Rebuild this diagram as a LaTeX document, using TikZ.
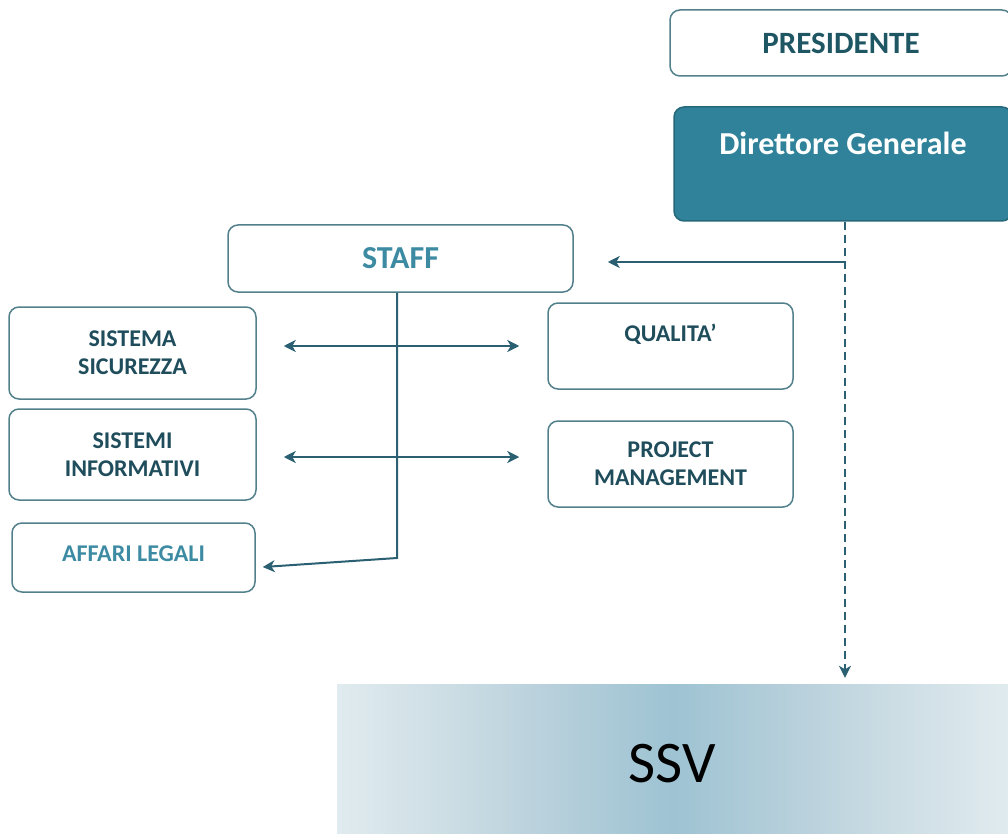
\documentclass[tikz,border=0pt]{standalone}
\usepackage{fontspec}
\setmainfont{Carlito}
\usetikzlibrary{arrows.meta,calc}
\definecolor{bordc}{HTML}{52808B}
\definecolor{arrc}{HTML}{2B6072}
\definecolor{darktxt}{HTML}{1F4D5C}
\definecolor{presc}{HTML}{1E5663}
\definecolor{dgfill}{HTML}{2F8299}
\definecolor{lighttxt}{HTML}{3C8BA3}
\definecolor{ssvmid}{HTML}{9EC3D3}
\definecolor{ssvq}{HTML}{B4CEDA}
\definecolor{ssve}{HTML}{CCDDE4}
\definecolor{ssvout}{HTML}{E0EBEF}
\pgfdeclarehorizontalshading{ssvshade}{100bp}{color(0bp)=(ssvout); color(25bp)=(ssvout); color(33.5bp)=(ssve); color(42bp)=(ssvq); color(50bp)=(ssvmid); color(58bp)=(ssvq); color(66.5bp)=(ssve); color(75bp)=(ssvout); color(100bp)=(ssvout)}
\tikzset{
  box/.style={draw=bordc, line width=1.5pt, rounded corners=10pt, fill=white, align=center, inner sep=0pt, text=darktxt, font=\bfseries\fontsize{24}{28}\selectfont},
  conn/.style={draw=arrc, line width=2pt, -{Stealth[length=12pt,width=12pt,inset=3.5pt]}},
  dconn/.style={draw=arrc, line width=2pt, {Stealth[length=12pt,width=12pt,inset=3.5pt]}-{Stealth[length=12pt,width=12pt,inset=3.5pt]}},
  dashconn/.style={draw=arrc, line width=2pt, dash pattern=on 8pt off 5pt, -{Stealth[length=12pt,width=12pt,inset=3.5pt]}}
}
\begin{document}
\begin{tikzpicture}[x=1pt,y=-1pt]
\useasboundingbox (0,0) rectangle (1008,834);
\clip (0,0) rectangle (1008,834);
% SSV
\node[minimum width=671pt, minimum height=160pt, inner sep=0pt, shade, shading=ssvshade, font=\fontsize{59}{70}\selectfont, text=black] (ssv) at (672.5,764) {SSV};
% top
\node[box, minimum width=342pt, minimum height=66pt, text=presc, font=\bfseries\fontsize{31}{36}\selectfont] (pres) at (841,43) {PRESIDENTE};
\node[box, draw=dgfill!80!black, fill=dgfill, minimum width=338pt, text height=48pt, text depth=66pt, text=white, font=\bfseries\fontsize{32}{38}\selectfont] (dg) at (843,164) {Direttore Generale};
% staff
\node[box, minimum width=345pt, minimum height=67pt, text=lighttxt, font=\bfseries\fontsize{32}{38}\selectfont] (staff) at (400.5,258.5) {STAFF};
% left
\node[box, minimum width=247pt, minimum height=92pt] (ss) at (132.5,353) {SISTEMA\\SICUREZZA};
\node[box, minimum width=247pt, minimum height=91pt] (si) at (132.5,454.5) {SISTEMI\\INFORMATIVI};
\node[box, minimum width=243pt, text height=38pt, text depth=31pt, text=lighttxt] (al) at (133.5,557.5) {AFFARI LEGALI};
% right
\node[box, minimum width=245pt, text height=38pt, text depth=48pt] (q) at (670.5,346) {QUALITA’};
\node[box, minimum width=245pt, minimum height=86pt] (pm) at (670.5,464) {PROJECT\\MANAGEMENT};
% connectors
\draw[dashconn, shorten >=6pt] ([xshift=2pt]dg.south) -- ([xshift=2pt]dg.south |- ssv.north);
\draw[conn, shorten >=34pt] ([xshift=2pt,yshift=-3.5pt]dg.south |- staff.east) -- ([yshift=-3.5pt]staff.east);
\coordinate (bend) at ([xshift=-3.5pt]staff.south |- 0,558);
\draw[conn, shorten >=7pt] ([xshift=-3.5pt]staff.south) -- (bend) -- ([yshift=-10pt]al.east);
\draw[dconn, shorten <=27pt, shorten >=28pt] (ss.east |- q.west) -- (q.west);
\draw[dconn, shorten <=27pt, shorten >=28pt] ([yshift=-2.5pt]si.east) -- ([yshift=-2.5pt]si.east -| pm.west);
\end{tikzpicture}
\end{document}
